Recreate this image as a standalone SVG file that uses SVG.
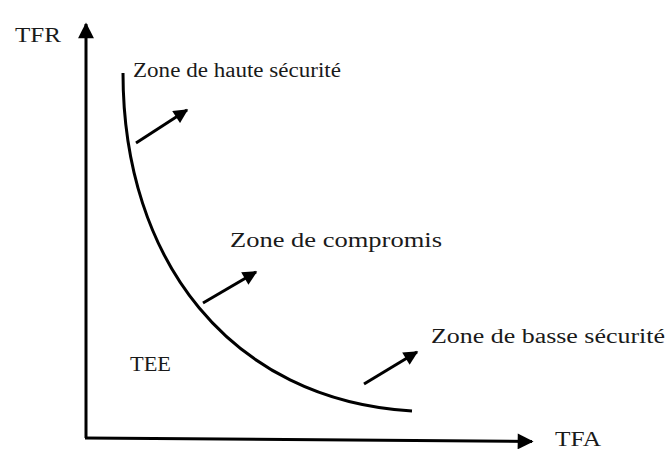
<svg xmlns="http://www.w3.org/2000/svg" width="668" height="450" viewBox="0 0 668 450">
<style>
.lbl{font-family:"Liberation Serif","Times New Roman",serif;font-size:20px;fill:#1a1a1a}
.ln{stroke:#000;stroke-width:3;fill:none}
.ar{stroke:#000;stroke-width:3;fill:none;marker-end:url(#ah)}
</style>
<defs>
<marker id="ah" viewBox="0 0 10 10" refX="9" refY="5" markerWidth="5.5" markerHeight="4.8" orient="auto" markerUnits="strokeWidth">
<path d="M0,0 L10,5 L0,10 z" fill="#000"/>
</marker>
<marker id="axh" viewBox="0 0 10 10" refX="9" refY="5" markerWidth="5.7" markerHeight="5.3" orient="auto" markerUnits="strokeWidth">
<path d="M0,0 L10,5 L0,10 z" fill="#000"/>
</marker>
</defs>
<g id="axes">
<path class="ln" d="M86,438 L86,24" marker-end="url(#axh)"/>
<path class="ln" d="M85,438 L532,441.5" marker-end="url(#axh)"/>
</g>
<g id="curve">
<path class="ln" stroke-width="2" d="M123,73 C123,260 230,400 412,411"/>
</g>
<g id="connectors">
<line class="ar" x1="136" y1="143" x2="187" y2="110"/>
<line class="ar" x1="203" y1="303" x2="256" y2="272"/>
<line class="ar" x1="364" y1="384" x2="417" y2="352"/>
</g>
<g id="labels">
<text class="lbl" x="15" y="42" textLength="46" lengthAdjust="spacingAndGlyphs">TFR</text>
<text class="lbl" x="555" y="446" textLength="46" lengthAdjust="spacingAndGlyphs">TFA</text>
<text class="lbl" x="130" y="371" textLength="41" lengthAdjust="spacingAndGlyphs">TEE</text>
<text class="lbl" x="133" y="77" textLength="208" lengthAdjust="spacingAndGlyphs">Zone de haute sécurité</text>
<text class="lbl" x="230" y="247" textLength="212" lengthAdjust="spacingAndGlyphs">Zone de compromis</text>
<text class="lbl" x="431" y="343" textLength="234" lengthAdjust="spacingAndGlyphs">Zone de basse sécurité</text>
</g>
</svg>
